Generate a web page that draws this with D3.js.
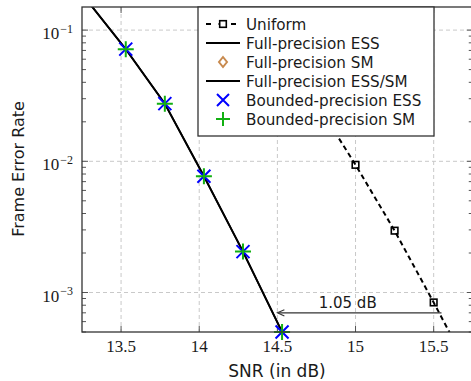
<!DOCTYPE html>
<html>
<head>
<meta charset="utf-8">
<script src="https://cdn.jsdelivr.net/npm/d3@7"></script>
<style>
  html, body { margin: 0; padding: 0; background: #fff; }
  svg { display: block; }
</style>
</head>
<body>
<svg id="chart" width="471" height="381"></svg>
<script>
// Frame error rate vs. SNR for the shaping schemes
const xTicks = [13.5, 14, 14.5, 15, 15.5];
const yDecades = [-1, -2, -3];

// Full-precision ESS / ESS-SM curve (first point lies above the plot window)
const essSnr = [13.28, 13.53, 13.78, 14.03, 14.28, 14.53];
const essFer = [0.17, 0.0716, 0.0275, 0.0077, 0.00205, 0.0005];

// Bounded-precision ESS and SM simulation points
const boundedSnr = [13.53, 13.78, 14.03, 14.28, 14.53];
const boundedEssFer = [0.0716, 0.0275, 0.0077, 0.00205, 0.0005];
const boundedSmFer = [0.0716, 0.0275, 0.0077, 0.00205, 0.0005];

// Uniform signalling
const uniformSnr = [14.75, 15, 15.25, 15.5, 15.75];
const uniformFer = [0.028, 0.0094, 0.00296, 0.00084, 0.00023];

// Gap annotation
const gapFrom = 15.55, gapTo = 14.5, gapFer = 0.0007, gapLabel = "1.05 dB";

const legendItems = [
  { label: "Uniform", kind: "uniform" },
  { label: "Full-precision ESS", kind: "line" },
  { label: "Full-precision SM", kind: "diamond" },
  { label: "Full-precision ESS/SM", kind: "line" },
  { label: "Bounded-precision ESS", kind: "cross" },
  { label: "Bounded-precision SM", kind: "plus" }
];

const BLUE = "#0000ff", GREEN = "#12b012", BROWN = "#c88a4e";
const SANS = "'DejaVu Sans', sans-serif";
const SERIF = "'Liberation Serif', 'DejaVu Serif', serif";
const INK = "#1a1a1a";

const svg = d3.select("#chart");
const pL = 82, pT = 7, pB = 332;
const x = d3.scaleLinear().domain([13.25, 15.75]).range([pL, pL + 2.5 * 156.3]);
const y = d3.scaleLog().domain([0.0005, 0.15]).range([pB, pT]);
const pR = x.range()[1];

svg.append("defs").append("clipPath").attr("id", "plotclip")
  .append("rect").attr("x", pL).attr("y", pT)
  .attr("width", pR - pL).attr("height", pB - pT);

// grid
const grid = svg.append("g").attr("stroke", "#c9c9c9").attr("stroke-width", 1)
  .attr("stroke-dasharray", "4,3");
xTicks.forEach(t => grid.append("line")
  .attr("x1", x(t)).attr("x2", x(t)).attr("y1", pT).attr("y2", pB));
yDecades.forEach(d => grid.append("line")
  .attr("x1", pL).attr("x2", pR).attr("y1", y(Math.pow(10, d))).attr("y2", y(Math.pow(10, d))));

// ticks pointing inward on all four sides
const ticks = svg.append("g").attr("stroke", "#555").attr("stroke-width", 1);
xTicks.forEach(t => {
  ticks.append("line").attr("x1", x(t)).attr("x2", x(t)).attr("y1", pB).attr("y2", pB - 6);
  ticks.append("line").attr("x1", x(t)).attr("x2", x(t)).attr("y1", pT).attr("y2", pT + 6);
});
const minorVals = [];
for (let d = -4; d <= -1; d++) for (let m = 2; m <= 9; m++) {
  const v = m * Math.pow(10, d);
  if (v >= y.domain()[0] && v <= y.domain()[1]) minorVals.push(v);
}
minorVals.forEach(v => {
  ticks.append("line").attr("x1", pL).attr("x2", pL + 4).attr("y1", y(v)).attr("y2", y(v));
  ticks.append("line").attr("x1", pR).attr("x2", pR - 4).attr("y1", y(v)).attr("y2", y(v));
});
yDecades.forEach(d => {
  const yy = y(Math.pow(10, d));
  ticks.append("line").attr("x1", pL).attr("x2", pL + 6).attr("y1", yy).attr("y2", yy);
  ticks.append("line").attr("x1", pR).attr("x2", pR - 6).attr("y1", yy).attr("y2", yy);
});

// tick labels
svg.append("g").selectAll("text").data(xTicks).join("text")
  .attr("x", d => x(d)).attr("y", 352).attr("text-anchor", "middle")
  .attr("font-family", SERIF).attr("font-size", 17).attr("fill", INK)
  .text(d => d3.format("")(d));
const yl = svg.append("g").selectAll("text").data(yDecades).join("text")
  .attr("x", 73).attr("y", d => y(Math.pow(10, d)) + 9).attr("text-anchor", "end")
  .attr("font-family", SERIF).attr("font-size", 17).attr("fill", INK);
yl.append("tspan").text("10");
yl.append("tspan").attr("dy", -6.5).attr("dx", 1).attr("font-size", 12).text(d => "\u2212" + (-d));

// axis titles
svg.append("text").attr("x", 277).attr("y", 377).attr("text-anchor", "middle")
  .attr("font-family", SANS).attr("font-size", 17).attr("fill", INK).text("SNR (in dB)");
svg.append("text").attr("transform", "translate(24,169) rotate(-90)").attr("text-anchor", "middle")
  .attr("font-family", SANS).attr("font-size", 16).attr("fill", INK).text("Frame Error Rate");

const plot = svg.append("g").attr("clip-path", "url(#plotclip)");
const line = d3.line().x(d => x(d[0])).y(d => y(d[1]));

// uniform dashed curve with square marks
const uniPts = d3.zip(uniformSnr, uniformFer);
plot.append("path").attr("d", line(uniPts)).attr("fill", "none")
  .attr("stroke", "#000").attr("stroke-width", 2).attr("stroke-dasharray", "5,3.5");
plot.selectAll(".sq").data(uniPts).join("rect")
  .attr("x", d => x(d[0]) - 3.3).attr("y", d => y(d[1]) - 3.3)
  .attr("width", 6.6).attr("height", 6.6)
  .attr("fill", "none").attr("stroke", "#000").attr("stroke-width", 1.6);

// full-precision curves
const essPts = d3.zip(essSnr, essFer);
plot.append("path").attr("d", line(essPts)).attr("fill", "none")
  .attr("stroke", "#000").attr("stroke-width", 2);
plot.append("path").attr("d", line(essPts)).attr("fill", "none")
  .attr("stroke", "#000").attr("stroke-width", 1.6);

// markers
const ms = 6.5;
function cross(g, cx, cy, s, color) {
  g.append("path").attr("d", `M${cx - s},${cy - s}L${cx + s},${cy + s}M${cx - s},${cy + s}L${cx + s},${cy - s}`)
    .attr("stroke", color).attr("stroke-width", 2).attr("fill", "none");
}
function plus(g, cx, cy, s, color) {
  g.append("path").attr("d", `M${cx - s},${cy}L${cx + s},${cy}M${cx},${cy - s}L${cx},${cy + s}`)
    .attr("stroke", color).attr("stroke-width", 2).attr("fill", "none");
}
const mk = svg.append("g");
d3.zip(boundedSnr, boundedEssFer).forEach(d => cross(mk, x(d[0]), y(d[1]), ms, BLUE));
d3.zip(boundedSnr, boundedSmFer).forEach(d => plus(mk, x(d[0]), y(d[1]), ms + 1.5, GREEN));

// gap annotation
const ay = y(gapFer);
svg.append("line").attr("x1", x(gapFrom)).attr("x2", x(gapTo) + 1).attr("y1", ay).attr("y2", ay)
  .attr("stroke", "#333").attr("stroke-width", 1.1);
svg.append("path")
  .attr("d", `M${x(gapTo) + 7},${ay - 3.2}L${x(gapTo)},${ay}L${x(gapTo) + 7},${ay + 3.2}`)
  .attr("fill", "none").attr("stroke", "#333").attr("stroke-width", 1.1);
svg.append("text").attr("x", x(14.95)).attr("y", ay - 5).attr("text-anchor", "middle")
  .attr("font-family", SANS).attr("font-size", 15).attr("fill", INK).text(gapLabel);

// frame
svg.append("rect").attr("x", pL).attr("y", pT).attr("width", pR - pL).attr("height", pB - pT)
  .attr("fill", "none").attr("stroke", "#333").attr("stroke-width", 1.3);

// legend
const lg = svg.append("g");
lg.append("rect").attr("x", 198).attr("y", 7).attr("width", 236).attr("height", 129)
  .attr("fill", "#fff").attr("stroke", "#333").attr("stroke-width", 1.3);
legendItems.forEach((it, i) => {
  const cy = 24 + i * 19, cx = 223;
  if (it.kind === "uniform") {
    lg.append("line").attr("x1", 206).attr("x2", 240).attr("y1", cy).attr("y2", cy)
      .attr("stroke", "#000").attr("stroke-width", 2).attr("stroke-dasharray", "5,7.5");
    lg.append("rect").attr("x", cx - 3.3).attr("y", cy - 3.3).attr("width", 6.6).attr("height", 6.6)
      .attr("fill", "#fff").attr("stroke", "#000").attr("stroke-width", 1.6);
  } else if (it.kind === "line") {
    lg.append("line").attr("x1", 206).attr("x2", 240).attr("y1", cy).attr("y2", cy)
      .attr("stroke", "#000").attr("stroke-width", 2);
  } else if (it.kind === "diamond") {
    lg.append("path").attr("d", `M${cx},${cy - 5}L${cx + 4},${cy}L${cx},${cy + 5}L${cx - 4},${cy}Z`)
      .attr("fill", "#fff").attr("stroke", BROWN).attr("stroke-width", 2);
  } else if (it.kind === "cross") {
    cross(lg, cx, cy, 6, BLUE);
  } else if (it.kind === "plus") {
    plus(lg, cx, cy, 7, GREEN);
  }
  lg.append("text").attr("x", 246).attr("y", cy + 5.5)
    .attr("font-family", SANS).attr("font-size", 15.2).attr("fill", INK).text(it.label);
});
</script>
</body>
</html>
